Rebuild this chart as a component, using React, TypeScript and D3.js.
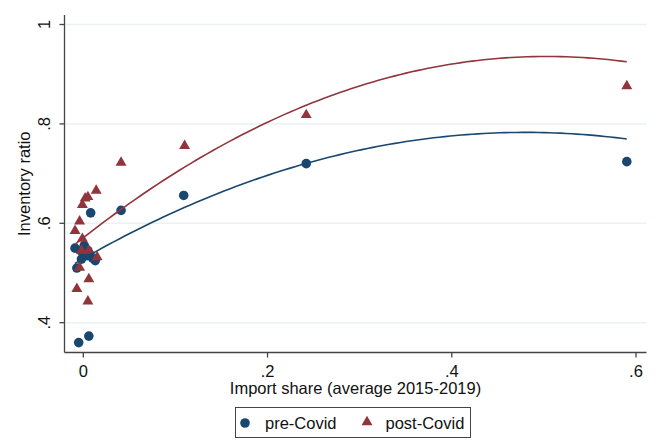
import React from "react";
import * as d3 from "d3";

const preX = [0.590, 0.242, 0.109, 0.041, 0.008, -0.009, 0.001, 0.005, 0.004, 0.010, 0.013, -0.002, -0.007, -0.005, 0.006, 0.003, -0.003, 0.007];
const preY = [0.724, 0.720, 0.656, 0.626, 0.621, 0.550, 0.555, 0.545, 0.535, 0.530, 0.525, 0.528, 0.510, 0.360, 0.373, 0.540, 0.545, 0.538];
const postX = [0.590, 0.242, 0.110, 0.041, 0.014, 0.005, 0.002, -0.001, -0.004, -0.009, -0.001, -0.002, 0.006, 0.015, -0.004, 0.006, -0.007, 0.005];
const postY = [0.876, 0.818, 0.756, 0.722, 0.666, 0.653, 0.650, 0.637, 0.604, 0.585, 0.569, 0.545, 0.545, 0.532, 0.511, 0.488, 0.468, 0.443];
// quadratic fit coefficients (a + b x + c x^2)
const preFit = [0.529, 1.058, -1.102];
const postFit = [0.571, 1.450, -1.441];
const xTicks = [0, 0.2, 0.4, 0.6];
const yTicks = [0.4, 0.6, 0.8, 1];
const seriesNames = ["pre-Covid", "post-Covid"];

const NAVY = "#1a476f";
const MAROON = "#90353b";
const FONT = "'Liberation Sans', Arial, sans-serif";

export default function App() {
  const W = 660, H = 447;
  const left = 64.5, right = 646.5, top = 15, bottom = 352.5;
  const x = d3.scaleLinear().domain([0, 0.6]).range([83.3, 636]);
  const y = d3.scaleLinear().domain([0.4, 1]).range([322.7, 24.5]);

  const fitPath = (xs: number[], c: number[]) => {
    const f = (v: number) => c[0] + c[1] * v + c[2] * v * v;
    const [mn, mx] = d3.extent(xs) as [number, number];
    const pts = d3.range(0, 101).map((i) => mn + ((mx - mn) * i) / 100);
    return d3.line<number>().x((v) => x(v)).y((v) => y(f(v)))(pts) || "";
  };

  const tri = d3.symbol().type(d3.symbolTriangle).size(52)() || "";
  const fmt = (t: number) => (t === 0 ? "0" : t === 1 ? "1" : d3.format(".1f")(t).replace(/^0/, ""));

  return (
    <svg width={W} height={H} style={{ position: "absolute", left: 0, top: 0, background: "#fff" }} fontFamily={FONT}>
      <rect x={0} y={0} width={W} height={H} fill="#fff" />
      {yTicks.map((t) => (
        <line key={"g" + t} x1={left} x2={right} y1={y(t)} y2={y(t)} stroke="#eaf2f3" strokeWidth={1.5} />
      ))}
      <line x1={left} x2={left} y1={top} y2={bottom} stroke="#444" strokeWidth={1.3} />
      <line x1={left} x2={right} y1={bottom} y2={bottom} stroke="#444" strokeWidth={1.3} />
      {yTicks.map((t) => (
        <g key={"yt" + t}>
          <line x1={left - 5} x2={left} y1={y(t)} y2={y(t)} stroke="#444" strokeWidth={1.3} />
          <text transform={`translate(50,${y(t)}) rotate(-90)`} textAnchor="middle" fontSize={16.5} fill="#111">
            {fmt(t)}
          </text>
        </g>
      ))}
      {xTicks.map((t) => (
        <g key={"xt" + t}>
          <line x1={x(t)} x2={x(t)} y1={bottom} y2={bottom + 5} stroke="#444" strokeWidth={1.3} />
          <text x={x(t)} y={377} textAnchor="middle" fontSize={16.5} fill="#111">
            {fmt(t)}
          </text>
        </g>
      ))}
      <text transform={`translate(30,${(top + bottom) / 2}) rotate(-90)`} textAnchor="middle" fontSize={16.5} fill="#111">
        Inventory ratio
      </text>
      <text x={(left + right) / 2} y={394} textAnchor="middle" fontSize={16.5} fill="#111">
        Import share (average 2015-2019)
      </text>

      {preX.map((v, i) => (
        <circle key={"p" + i} cx={x(v)} cy={y(preY[i])} r={4.8} fill={NAVY} />
      ))}
      {postX.map((v, i) => (
        <path key={"q" + i} d={tri} transform={`translate(${x(v)},${y(postY[i])})`} fill={MAROON} />
      ))}
      <path d={fitPath(preX, preFit)} fill="none" stroke={NAVY} strokeWidth={1.6} />
      <path d={fitPath(postX, postFit)} fill="none" stroke={MAROON} strokeWidth={1.6} />

      <rect x={235.5} y={407.5} width={235} height={30} fill="#fff" stroke="#444" strokeWidth={1} />
      <circle cx={245} cy={423} r={4.8} fill={NAVY} />
      <text x={265} y={429} fontSize={16.5} fill="#111">{seriesNames[0]}</text>
      <path d={tri} transform="translate(367,422)" fill={MAROON} />
      <text x={385.5} y={429} fontSize={16.5} fill="#111">{seriesNames[1]}</text>
    </svg>
  );
}
